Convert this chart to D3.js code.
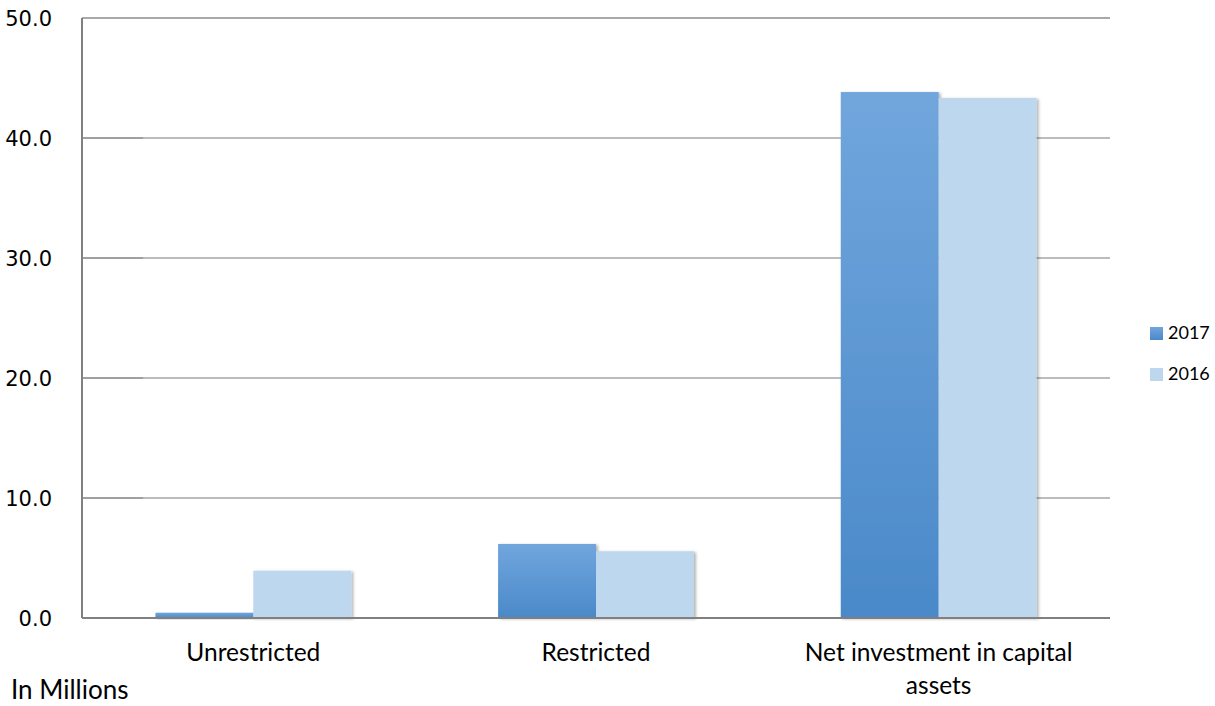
<!DOCTYPE html>
<html>
<head>
<meta charset="utf-8">
<script src="https://cdn.jsdelivr.net/npm/d3@7"></script>
<style>
  body { margin: 0; background: #fff; }
  svg { display: block; }
</style>
</head>
<body>
<svg id="chart" width="1215" height="706"></svg>
<script>
// chart data (in millions)
var categories = ['Unrestricted', 'Restricted', 'Net investment in capital assets'];
var series = ['2017', '2016'];
var values2017 = [0.44, 6.17, 43.83];
var values2016 = [3.94, 5.56, 43.33];
var yTicks = [0, 10, 20, 30, 40, 50];

var svg = d3.select('#chart');
var plotLeft = 82, plotRight = 1110, plotTop = 18, plotBottom = 618;

var x0 = d3.scaleBand().domain(categories).range([plotLeft, plotRight]).padding(0);
var x1 = d3.scaleBand().domain(series).range([0, x0.bandwidth()])
    .paddingInner(0).paddingOuter(0.75);
var y = d3.scaleLinear().domain([0, 50]).range([plotBottom, plotTop]);

var defs = svg.append('defs');
var grad = defs.append('linearGradient')
    .attr('id', 'g2017')
    .attr('x1', 0).attr('y1', 0).attr('x2', 0).attr('y2', 1);
grad.append('stop').attr('offset', '0%').attr('stop-color', '#71a6dd');
grad.append('stop').attr('offset', '100%').attr('stop-color', '#4a89c9');
var shadow = defs.append('filter').attr('id', 'shadow')
    .attr('x', '-10%').attr('y', '-10%').attr('width', '130%').attr('height', '130%');
shadow.append('feDropShadow')
    .attr('dx', 2).attr('dy', 1).attr('stdDeviation', 1.5)
    .attr('flood-color', '#000').attr('flood-opacity', 0.3);

// gridlines
var grid = svg.append('g');
yTicks.filter(function(d) { return d > 0 && d < 50; }).forEach(function(d) {
    grid.append('line')
        .attr('x1', plotLeft).attr('x2', 143)
        .attr('y1', y(d)).attr('y2', y(d))
        .attr('stroke', '#808080').attr('stroke-width', 1.5);
    grid.append('line')
        .attr('x1', 143).attr('x2', plotRight)
        .attr('y1', y(d)).attr('y2', y(d))
        .attr('stroke', '#a6a6a6').attr('stroke-width', 1.5);
});
svg.append('line')
    .attr('x1', plotLeft).attr('x2', plotRight)
    .attr('y1', y(50)).attr('y2', y(50))
    .attr('stroke', '#8c8c8c').attr('stroke-width', 1.5);

// bars
var colors = { '2017': 'url(#g2017)', '2016': '#bdd7ee' };
var rows = categories.map(function(c, i) {
    return { cat: c, vals: [values2017[i], values2016[i]] };
});
var groups = svg.append('g').selectAll('g')
    .data(rows)
    .enter()
    .append('g')
    .attr('transform', function(d) { return 'translate(' + x0(d.cat) + ',0)'; });
groups.selectAll('rect')
    .data(function(d) {
        return series.map(function(s, j) { return { s: s, v: d.vals[j] }; });
    })
    .enter()
    .append('rect')
    .attr('x', function(d) { return x1(d.s); })
    .attr('y', function(d) { return y(d.v); })
    .attr('width', x1.bandwidth())
    .attr('height', function(d) { return y(0) - y(d.v); })
    .attr('fill', function(d) { return colors[d.s]; })
    .attr('filter', 'url(#shadow)');

// axes lines
svg.append('line')
    .attr('x1', plotLeft).attr('x2', plotLeft)
    .attr('y1', y(50)).attr('y2', y(0))
    .attr('stroke', '#808080').attr('stroke-width', 2);
svg.append('line')
    .attr('x1', plotLeft).attr('x2', plotRight)
    .attr('y1', y(0)).attr('y2', y(0))
    .attr('stroke', '#808080').attr('stroke-width', 2);

// y tick labels
svg.append('g').selectAll('text')
    .data(yTicks)
    .enter()
    .append('text')
    .attr('x', 52)
    .attr('y', function(d) { return y(d); })
    .attr('dy', '0.36em')
    .attr('text-anchor', 'end')
    .style('font-family', '"DejaVu Sans", sans-serif')
    .style('font-size', '21px')
    .attr('fill', '#000')
    .text(function(d) { return d3.format('.1f')(d); });

// category labels
var catLines = {
    'Unrestricted': ['Unrestricted'],
    'Restricted': ['Restricted'],
    'Net investment in capital assets': ['Net investment in capital', 'assets']
};
svg.append('g').selectAll('text')
    .data(categories)
    .enter()
    .append('text')
    .attr('text-anchor', 'middle')
    .style('font-family', 'Lato, sans-serif')
    .style('font-size', '24.5px')
    .attr('fill', '#000')
    .each(function(d) {
        var t = d3.select(this);
        catLines[d].forEach(function(line, k) {
            t.append('tspan')
                .attr('x', x0(d) + x0.bandwidth() / 2)
                .attr('y', 661 + k * 33)
                .text(line);
        });
    });

// legend
var legend = svg.append('g').selectAll('g')
    .data(series)
    .enter()
    .append('g')
    .attr('transform', function(d, i) { return 'translate(1150,' + (327 + i * 41) + ')'; });
legend.append('rect')
    .attr('width', 13).attr('height', 13)
    .attr('fill', function(d) { return colors[d]; });
legend.append('text')
    .attr('x', 18).attr('y', 12)
    .style('font-family', 'Lato, sans-serif')
    .style('font-size', '18px')
    .attr('fill', '#000')
    .text(function(d) { return d; });

// units note
svg.append('text')
    .attr('x', 11).attr('y', 699)
    .style('font-family', 'Lato, sans-serif')
    .style('font-size', '26px')
    .attr('fill', '#000')
    .text('In Millions');
</script>
</body>
</html>
